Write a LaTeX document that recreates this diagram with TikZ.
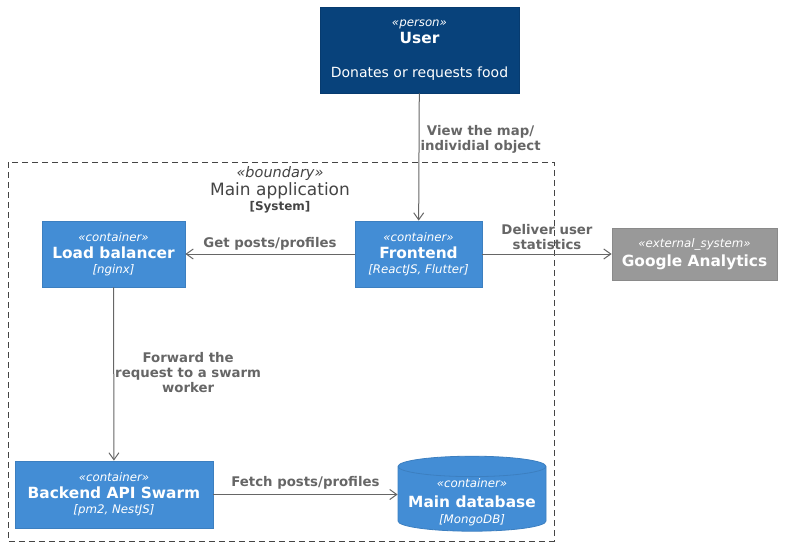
\documentclass[tikz,border=0pt]{standalone}
\usepackage{fontspec}
\setmainfont{DejaVu Sans}
\usetikzlibrary{arrows.meta,shapes.geometric}
\definecolor{personblue}{HTML}{08427B}
\definecolor{personline}{HTML}{073B6F}
\definecolor{contblue}{HTML}{438DD5}
\definecolor{contline}{HTML}{3C7FC0}
\definecolor{extgray}{HTML}{999999}
\definecolor{extline}{HTML}{8A8A8A}
\definecolor{relgray}{HTML}{666666}
\definecolor{bndgray}{HTML}{444444}
\newcommand{\stereo}[1]{{\fontsize{11.8}{13}\itshape\guillemotleft #1\guillemotright}}
\newcommand{\cname}[1]{{\fontsize{15.4}{17}\bfseries #1}}
\newcommand{\ctech}[1]{{\fontsize{11.8}{13}\itshape [#1]}}

\begin{document}
\begin{tikzpicture}[x=1pt,y=-1pt,
    box/.style={draw,line width=0.8pt,text=white,align=center,inner sep=0pt},
    person/.style={box,fill=personblue,draw=personline},
    cont/.style={box,fill=contblue,draw=contline},
    ext/.style={box,fill=extgray,draw=extline},
    rel/.style={draw=relgray,line width=1pt,-{Straight Barb[length=7pt,width=10pt]}},
    lbl/.style={text=relgray,font=\fontsize{13.3}{15}\bfseries,align=center,inner sep=0pt}]
  \useasboundingbox (0,0) rectangle (788,551);
  % system boundary
  \draw[bndgray,dash pattern=on 6pt off 4pt,line width=0.8pt] (8,162) rectangle (554,541);
  \node[text=bndgray,align=center,inner sep=0pt] (bnd) at (280,190)
    {{\fontsize{14.5}{16}\itshape\guillemotleft boundary\guillemotright}\\[1pt]
     {\fontsize{17}{17}\selectfont Main application}\\[1pt]
     {\fontsize{12}{12}\bfseries [System]}};
  % nodes
  \node[person,minimum width=199pt,minimum height=86pt] (user) at (419.5,50)
    {\stereo{person}\\[2pt] \cname{User}\\[22pt] {\fontsize{14}{15}\selectfont Donates or requests food}};
  \node[cont,minimum width=143pt,minimum height=66pt] (lb) at (113.5,254)
    {\stereo{container}\\[5pt] \cname{Load balancer}\\[3pt] \ctech{nginx}};
  \node[cont,minimum width=127pt,minimum height=66pt] (fe) at (418.5,254)
    {\stereo{container}\\[5pt] \cname{Frontend}\\[3pt] \ctech{ReactJS, Flutter}};
  \node[ext,minimum width=165pt,minimum height=52pt] (ga) at (694.5,254)
    {\stereo{external\_system}\\[4pt] \cname{Google Analytics}};
  \node[cont,minimum width=198pt,minimum height=67pt] (api) at (114,494.5)
    {\stereo{container}\\[5pt] \cname{Backend API Swarm}\\[3pt] \ctech{pm2, NestJS}};
  \node[cont,cylinder,shape border rotate=90,aspect=0.16,minimum width=148pt,minimum height=75pt] (db) at (472,499)
    {\raisebox{0pt}[22pt][10pt]{\begin{tabular}{@{}c@{}}\stereo{container}\\[5pt] \cname{Main database}\\[3pt] \ctech{MongoDB}\end{tabular}}};
  % relations
  \path[rel]
    (user) edge node[lbl,right=1pt,pos=0.36] {View the map/\\individial object} (fe)
    (fe) edge node[lbl,above=3pt,pos=0.5] {Get posts/profiles} (lb)
    (fe) edge node[lbl,above=4pt,pos=0.5] {Deliver user\\statistics} (ga)
    (lb) edge node[lbl,right=0pt,pos=0.49,xshift=1pt] {Forward the\\request to a swarm\\worker} (api)
    (api) edge node[lbl,above=5pt] {Fetch posts/profiles} (api -| db.west);
\end{tikzpicture}
\end{document}
